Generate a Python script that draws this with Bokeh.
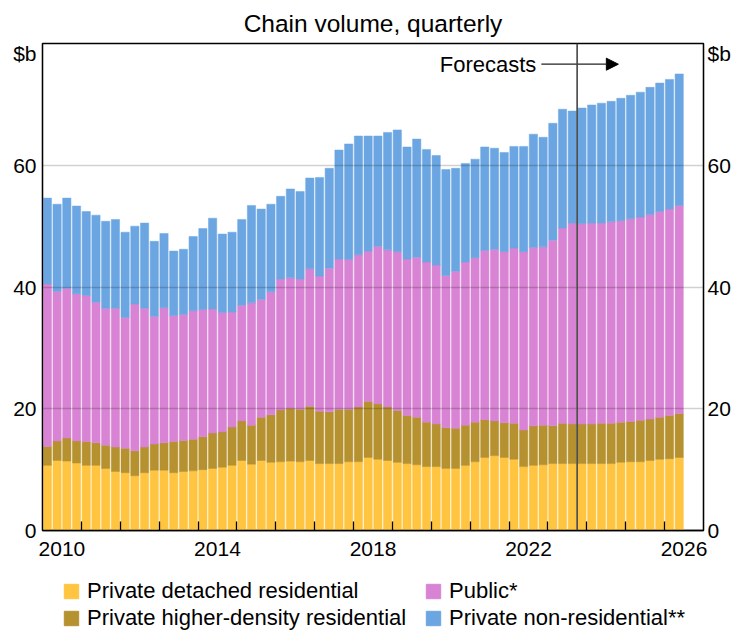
from bokeh.plotting import figure
from bokeh.layouts import column
from bokeh.models import (ColumnDataSource, FixedTicker, LinearAxis, Legend, LegendItem,
                          Span, Arrow, NormalHead, Title, Label)
from bokeh.embed import file_html
from bokeh.resources import INLINE

# ---------------- data (A$ billion, chain volume, quarterly) ----------------
start_year = 2010
quarters = [f"{start_year + i // 4}-Q{i % 4 + 1}" for i in range(66)]

detached = [10.7, 11.5, 11.4, 11.1, 10.7, 10.7, 10.2, 9.7, 9.5, 9.0,
            9.5, 9.9, 9.9, 9.5, 9.7, 9.8, 10.0, 10.2, 10.4, 10.7,
            11.5, 10.9, 11.5, 11.2, 11.3, 11.4, 11.3, 11.5, 11.0, 11.0,
            11.0, 11.3, 11.3, 12.0, 11.7, 11.5, 11.2, 11.0, 10.8, 10.5,
            10.5, 10.2, 10.2, 10.7, 11.3, 12.0, 12.3, 12.0, 11.7, 10.5,
            10.7, 10.8, 11.0, 11.0, 11.0, 11.0, 11.0, 11.0, 11.0, 11.2,
            11.3, 11.3, 11.5, 11.7, 11.8, 12.0]
higher_density = [3.1, 3.2, 3.8, 3.6, 3.9, 3.7, 3.8, 4.0, 4.0, 4.1,
                  4.2, 4.3, 4.5, 5.1, 5.1, 5.2, 5.4, 5.8, 5.8, 6.3,
                  6.5, 6.4, 7.1, 7.8, 8.5, 8.7, 8.6, 8.9, 8.6, 8.5,
                  8.9, 8.6, 9.0, 9.2, 9.1, 8.8, 8.5, 7.9, 7.8, 7.3,
                  7.0, 6.7, 6.6, 6.6, 6.5, 6.2, 5.7, 5.7, 5.9, 6.0,
                  6.5, 6.5, 6.2, 6.6, 6.5, 6.5, 6.5, 6.6, 6.6, 6.6,
                  6.6, 6.8, 6.8, 6.9, 7.1, 7.2]
public = [26.7, 24.6, 24.6, 24.2, 24.0, 23.1, 22.5, 22.8, 21.5, 24.1,
          22.8, 21.0, 22.2, 20.7, 20.7, 21.1, 20.9, 20.4, 19.6, 18.9,
          19.0, 20.1, 19.4, 20.2, 21.5, 21.4, 21.4, 22.6, 22.2, 23.6,
          24.7, 24.6, 25.0, 24.7, 25.9, 25.8, 26.1, 25.7, 26.3, 26.3,
          26.1, 25.0, 25.8, 26.8, 27.0, 27.8, 28.2, 28.1, 28.8, 29.3,
          29.3, 29.3, 30.5, 32.1, 33.0, 32.9, 33.0, 32.9, 33.1, 33.1,
          33.3, 33.4, 33.6, 33.8, 33.9, 34.2]
non_residential = [14.1, 14.3, 14.8, 14.4, 13.8, 14.3, 14.3, 14.6, 14.0, 12.8,
                   14.0, 12.3, 12.2, 10.6, 10.7, 12.2, 13.3, 14.9, 12.9, 13.1,
                   14.1, 16.0, 14.8, 14.4, 13.6, 14.6, 14.4, 14.9, 16.2, 16.4,
                   17.9, 19.0, 19.5, 18.9, 18.1, 19.3, 20.0, 18.4, 19.4, 18.5,
                   18.0, 17.4, 16.9, 16.2, 16.2, 17.0, 16.6, 16.3, 16.7, 17.3,
                   18.6, 18.0, 19.2, 19.5, 18.4, 19.0, 19.4, 19.7, 19.8, 20.1,
                   20.3, 20.5, 20.9, 21.1, 21.3, 21.6]

series_keys = ["detached", "higher_density", "public", "non_residential"]
series_labels = ["Private detached residential", "Private higher-density residential",
                 "Public*", "Private non-residential**"]
colors = ["#FFC440", "#B5912F", "#D883D4", "#6BA6E2"]

year_ticks = [2010, 2014, 2018, 2022, 2026]
year_labels = ["2010", "2014", "2018", "2022", "2026"]
y_ticks = [0, 20, 40, 60]
unit_label = "$b"
forecast_start = "2023-Q4"
subtitle = "Chain volume, quarterly"
forecast_text = "Forecasts"

# quarter label -> decimal year at mid-quarter
def qpos(label):
    y, q = label.split("-Q")
    return int(y) + (int(q) - 0.5) / 4

x = [qpos(q) for q in quarters]
source = ColumnDataSource(dict(x=x, detached=detached, higher_density=higher_density,
                               public=public, non_residential=non_residential))

FONT = "Liberation Sans"

p = figure(frame_width=661, frame_height=487, x_range=(2010, 2027), y_range=(0, 80),
           output_backend="svg", toolbar_location=None,
           min_border_left=42, min_border_right=34, min_border_top=43, min_border_bottom=42)
p.title = None
p.background_fill_color = "white"
p.border_fill_color = "white"
p.outline_line_color = "black"
p.outline_line_width = 1.3

renderers = p.vbar_stack(series_keys, x="x", width=0.2125, source=source,
                         fill_color=colors, line_color=colors, line_width=0.5)

# grid over bars
p.xgrid.visible = False
p.ygrid.ticker = FixedTicker(ticks=y_ticks[1:])
p.ygrid.grid_line_color = "black"
p.ygrid.grid_line_alpha = 0.18
p.ygrid.grid_line_width = 1.6
p.ygrid.level = "overlay"

# x axis: year-boundary ticks, labels centred on mid-year
xt = FixedTicker(ticks=[y + 0.5 for y in year_ticks],
                 minor_ticks=list(range(2011, 2027)))
xa = p.xaxis[0]
xa.ticker = xt
xa.major_label_overrides = {y + 0.5: lab for y, lab in zip(year_ticks, year_labels)}
xa.major_tick_in = 0
xa.major_tick_out = 0
xa.minor_tick_in = 9
xa.minor_tick_out = 0
xa.minor_tick_line_color = "black"
xa.minor_tick_line_width = 1.3
xa.axis_line_color = "black"
xa.axis_line_width = 1.3
xa.major_label_text_font = FONT
xa.major_label_text_font_size = "21px"
xa.major_label_text_color = "black"
xa.major_label_standoff = 11

# y axes (left and right)
unit_pos = 78.4
yt = FixedTicker(ticks=y_ticks + [unit_pos])
overrides = {unit_pos: unit_label}

def style_y(ax, standoff):
    ax.ticker = yt
    ax.major_label_overrides = overrides
    ax.major_tick_in = 0
    ax.major_tick_out = 0
    ax.minor_tick_in = 0
    ax.minor_tick_out = 0
    ax.axis_line_color = "black"
    ax.axis_line_width = 1.3
    ax.major_label_text_font = FONT
    ax.major_label_text_font_size = "21px"
    ax.major_label_text_color = "black"
    ax.major_label_standoff = standoff

style_y(p.yaxis[0], 6)
right_axis = LinearAxis()
style_y(right_axis, 4)
p.add_layout(right_axis, "right")

# subtitle
p.add_layout(Title(text=subtitle, align="center", text_font=FONT, text_font_size="24.5px",
                   text_font_style="normal", text_color="black", standoff=14), "above")

# forecast marker
fx = qpos(forecast_start) - 0.125
p.add_layout(Span(location=fx, dimension="height", line_color="#444444", line_width=1.6,
                  level="overlay"))
p.add_layout(Label(x=2022.70, y=76.6, text=forecast_text, text_align="right",
                   text_baseline="middle", text_font=FONT, text_font_size="22px",
                   text_color="black"))
p.add_layout(Arrow(x_start=2022.83, y_start=76.6, x_end=2024.81, y_end=76.6,
                   line_color="#222222", line_width=1.3,
                   end=NormalHead(size=12, fill_color="black", line_color="black")))

# ---------------- legend strip (separate figure below the chart) ----------------
# hidden key renderers (same data) supply the legend swatches only
leg = figure(width=737, height=58, x_range=(2010, 2027), y_range=(-2, -1),
             output_backend="svg", toolbar_location=None,
             x_axis_type=None, y_axis_type=None,
             min_border_left=0, min_border_right=0, min_border_top=0, min_border_bottom=0)
leg.title = None
leg.outline_line_color = None
leg.background_fill_color = "white"
leg.border_fill_color = "white"
leg.xgrid.visible = False
leg.ygrid.visible = False
key_renderers = leg.vbar_stack(series_keys, x="x", width=0.2125, source=source,
                               fill_color=colors, line_color=colors)
for r in key_renderers:
    r.visible = False

def make_legend(idx, loc):
    items = [LegendItem(label=series_labels[i], renderers=[key_renderers[i]]) for i in idx]
    return Legend(items=items, orientation="vertical", location=loc,
                  margin=0, padding=0, spacing=1, label_standoff=7,
                  glyph_width=18, glyph_height=18,
                  label_text_font=FONT, label_text_font_size="22px",
                  label_text_color="black",
                  inactive_fill_alpha=0.0,
                  border_line_alpha=0, background_fill_alpha=0)

leg.add_layout(make_legend([0, 1], (20, -1)), "center")
leg.add_layout(make_legend([2, 3], (382, -1)), "center")

open("out.html", "w").write(file_html(column(p, leg, spacing=0), INLINE))
